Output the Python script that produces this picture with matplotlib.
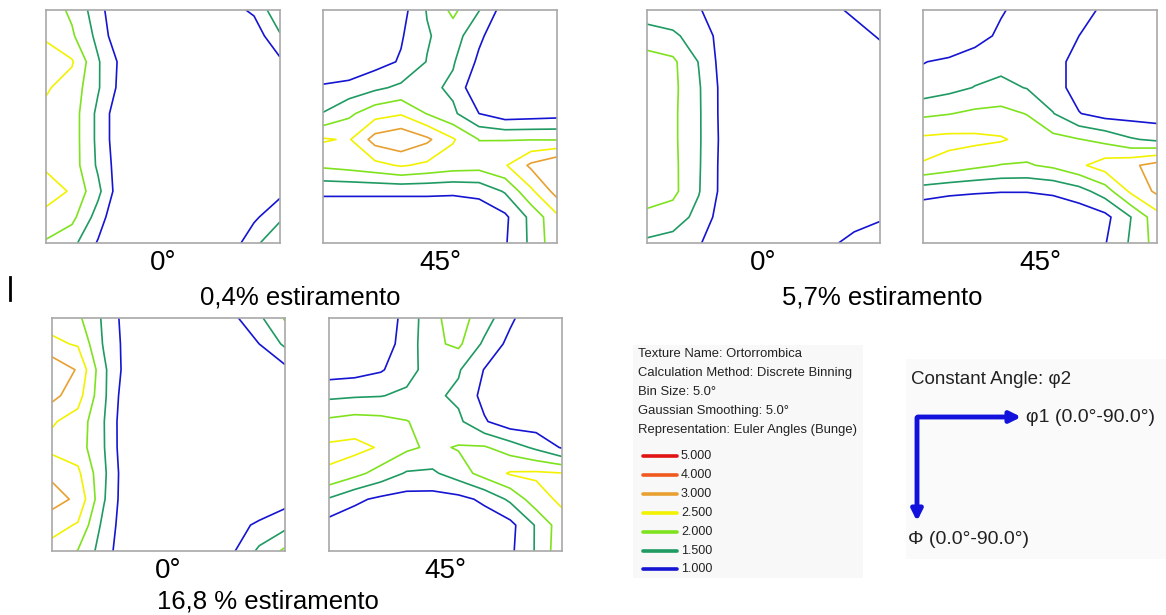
import numpy as np
import matplotlib
matplotlib.use("Agg")
import matplotlib.pyplot as plt

plt.rcParams['font.family'] = ['Liberation Sans', 'DejaVu Sans']

W, H = 1166, 615

# grid nodes in degrees (phi1 along x, Phi down the section)
phi1 = np.arange(0, 91, 10)
Phi = np.arange(0, 91, 10)

levels = [1.0, 1.5, 2.0, 2.5, 3.0, 4.0, 5.0]
level_colors = ['#1414d2', '#1e9a62', '#7ee21e', '#f2f200', '#e8a030', '#f05a1e', '#e01414']
level_labels = ['1.000', '1.500', '2.000', '2.500', '3.000', '4.000', '5.000']

# ODF intensities, rows = Phi 0..90, cols = phi1 0..90
odf_04_0 = [
    [2.3, 1.9, 1.23, 0.35, 0.3, 0.3, 0.4, 0.8, 1.09, 1.9],
    [2.4, 2.07, 1.36, 0.46, 0.3, 0.3, 0.35, 0.5, 0.7, 1.45],
    [2.85, 2.55, 1.55, 0.8, 0.35, 0.3, 0.3, 0.4, 0.6, 0.9],
    [2.55, 2.3, 1.55, 0.75, 0.35, 0.3, 0.3, 0.35, 0.45, 0.6],
    [2.4, 2.25, 1.38, 0.52, 0.3, 0.3, 0.3, 0.3, 0.35, 0.4],
    [2.35, 2.25, 1.38, 0.52, 0.3, 0.3, 0.3, 0.3, 0.35, 0.4],
    [2.4, 2.25, 1.42, 0.6, 0.3, 0.3, 0.3, 0.35, 0.45, 0.6],
    [2.8, 2.43, 1.63, 0.53, 0.3, 0.3, 0.3, 0.4, 0.6, 0.85],
    [2.3, 2.14, 1.28, 0.35, 0.3, 0.3, 0.3, 0.4, 0.9, 1.4],
    [1.95, 1.65, 0.95, 0.4, 0.3, 0.3, 0.35, 0.64, 1.36, 1.95],
]
odf_04_45 = [
    [0.3, 0.4, 0.55, 0.8, 1.53, 2.12, 1.52, 0.75, 0.5, 0.4],
    [0.3, 0.4, 0.6, 0.95, 1.45, 1.75, 1.1, 0.6, 0.45, 0.4],
    [0.35, 0.5, 0.8, 1.05, 1.52, 1.55, 0.9, 0.55, 0.45, 0.45],
    [1.1, 1.2, 1.4, 1.6, 1.65, 1.39, 0.58, 0.4, 0.4, 0.45],
    [1.52, 1.9, 2.3, 2.45, 1.98, 1.6, 1.0, 0.7, 0.75, 0.8],
    [2.55, 2.45, 3.2, 3.4, 3.1, 2.55, 1.99, 1.98, 1.98, 1.97],
    [2.1, 2.2, 2.35, 2.55, 2.4, 2.25, 2.2, 2.45, 3.1, 3.5],
    [1.1, 1.1, 1.1, 1.1, 1.1, 1.08, 1.15, 1.55, 2.4, 3.2],
    [0.6, 0.6, 0.6, 0.6, 0.6, 0.6, 0.65, 0.9, 1.63, 2.4],
    [0.5, 0.5, 0.5, 0.5, 0.5, 0.55, 0.65, 0.95, 1.6, 2.35],
]
odf_57_0 = [
    [1.2, 1.15, 1.05, 0.6, 0.45, 0.4, 0.45, 0.85, 1.1, 1.3],
    [1.75, 1.6, 1.25, 0.8, 0.45, 0.4, 0.4, 0.55, 0.8, 1.05],
    [2.2, 2.1, 1.48, 0.75, 0.45, 0.4, 0.4, 0.45, 0.6, 0.75],
    [2.2, 2.12, 1.55, 0.8, 0.45, 0.4, 0.35, 0.35, 0.4, 0.45],
    [2.2, 2.1, 1.56, 0.8, 0.45, 0.4, 0.35, 0.35, 0.35, 0.35],
    [2.2, 2.1, 1.56, 0.82, 0.45, 0.4, 0.35, 0.35, 0.35, 0.35],
    [2.2, 2.12, 1.55, 0.8, 0.45, 0.4, 0.35, 0.35, 0.4, 0.45],
    [2.2, 2.13, 1.53, 0.8, 0.45, 0.4, 0.4, 0.45, 0.55, 0.65],
    [1.9, 1.75, 1.35, 0.7, 0.45, 0.4, 0.4, 0.5, 0.8, 0.95],
    [1.4, 1.3, 1.05, 0.6, 0.45, 0.4, 0.5, 0.9, 1.15, 1.25],
]
odf_57_45 = [
    [0.3, 0.4, 0.6, 0.95, 1.2, 1.35, 1.2, 0.9, 0.6, 0.45],
    [0.35, 0.5, 0.8, 1.1, 1.3, 1.35, 1.0, 0.7, 0.5, 0.45],
    [0.98, 1.1, 1.25, 1.35, 1.45, 1.15, 0.85, 0.6, 0.5, 0.45],
    [1.2, 1.35, 1.52, 1.62, 1.48, 1.2, 0.8, 0.55, 0.45, 0.4],
    [1.9, 1.98, 2.1, 2.15, 1.98, 1.52, 1.02, 0.8, 0.78, 0.75],
    [2.6, 2.65, 2.62, 2.55, 2.35, 2.15, 2.02, 1.85, 1.55, 1.4],
    [2.48, 2.3, 2.12, 1.98, 1.95, 2.1, 2.4, 2.75, 2.9, 3.2],
    [1.2, 1.1, 1.05, 1.02, 1.02, 1.08, 1.3, 1.75, 2.6, 3.1],
    [0.6, 0.55, 0.55, 0.55, 0.55, 0.6, 0.65, 0.85, 1.5, 2.3],
    [0.5, 0.5, 0.5, 0.5, 0.5, 0.55, 0.7, 0.97, 1.57, 2.2],
]
odf_168_0 = [
    [2.3, 2.1, 1.42, 0.7, 0.4, 0.35, 0.4, 0.9, 1.4, 2.05],
    [2.6, 2.45, 1.45, 0.75, 0.4, 0.35, 0.35, 0.65, 1.0, 1.6],
    [3.4, 2.95, 1.6, 0.7, 0.4, 0.35, 0.35, 0.45, 0.6, 0.85],
    [3.15, 2.7, 1.6, 0.55, 0.4, 0.35, 0.3, 0.3, 0.35, 0.4],
    [2.55, 2.3, 1.52, 0.5, 0.35, 0.3, 0.3, 0.3, 0.3, 0.3],
    [2.35, 2.25, 1.53, 0.5, 0.35, 0.3, 0.3, 0.3, 0.3, 0.3],
    [2.9, 2.6, 1.6, 0.55, 0.35, 0.3, 0.3, 0.3, 0.3, 0.35],
    [3.2, 2.9, 1.55, 0.55, 0.35, 0.3, 0.3, 0.35, 0.55, 0.8],
    [2.7, 2.45, 1.35, 0.6, 0.35, 0.3, 0.35, 0.8, 1.1, 1.35],
    [2.3, 1.98, 1.25, 0.55, 0.35, 0.3, 0.4, 0.95, 1.6, 2.1],
]
odf_168_45 = [
    [0.3, 0.45, 0.7, 1.15, 1.9, 2.2, 1.75, 1.1, 0.6, 0.4],
    [0.3, 0.45, 0.75, 1.2, 1.9, 2.1, 1.4, 0.85, 0.5, 0.4],
    [0.75, 0.8, 0.95, 1.3, 1.75, 1.55, 0.98, 0.6, 0.45, 0.4],
    [1.4, 1.45, 1.48, 1.6, 1.6, 1.4, 0.85, 0.55, 0.45, 0.4],
    [2.1, 2.2, 2.15, 2.02, 1.8, 1.6, 1.05, 0.7, 0.7, 0.7],
    [2.6, 2.65, 2.45, 2.1, 1.9, 2.04, 2.05, 1.75, 1.4, 0.95],
    [2.45, 2.15, 1.8, 1.45, 1.42, 1.75, 2.2, 2.55, 2.58, 2.52],
    [1.45, 1.1, 0.9, 0.8, 0.8, 0.85, 1.1, 1.6, 2.3, 2.6],
    [0.8, 0.7, 0.6, 0.55, 0.55, 0.6, 0.7, 0.85, 1.55, 2.3],
    [0.6, 0.55, 0.5, 0.5, 0.5, 0.55, 0.65, 0.9, 1.55, 2.35],
]

info_lines = [
    'Texture Name: Ortorrombica',
    'Calculation Method: Discrete Binning',
    'Bin Size: 5.0\u00b0',
    'Gaussian Smoothing: 5.0\u00b0',
    'Representation: Euler Angles (Bunge)',
]

# (data, panel box in px: x0, y0, x1, y1, angle label)
sections = [
    (odf_04_0, (46, 10, 280, 243), '0\u00b0'),
    (odf_04_45, (323, 10, 557, 243), '45\u00b0'),
    (odf_57_0, (647, 10, 880, 243), '0\u00b0'),
    (odf_57_45, (923, 10, 1157, 243), '45\u00b0'),
    (odf_168_0, (52, 318, 285, 551), '0\u00b0'),
    (odf_168_45, (329, 318, 562, 551), '45\u00b0'),
]
captions = [
    ('0,4% estiramento', 300, 298),
    ('5,7% estiramento', 882, 298),
    ('16,8 % estiramento', 268, 601),
]

fig = plt.figure(figsize=(W / 100, H / 100), dpi=100)
fig.patch.set_facecolor('white')

# page-level overlay in pixel coordinates for texts and the axes key
bg = fig.add_axes([0, 0, 1, 1])
bg.set_xlim(0, W)
bg.set_ylim(H, 0)
bg.axis('off')

bg.add_patch(plt.Rectangle((633, 345), 230, 233, color='#f8f8f8', lw=0))
bg.add_patch(plt.Rectangle((906, 359), 260, 200, color='#fafafa', lw=0))
bg.plot([10, 10], [277, 300], color='black', lw=2)

for data, (x0, y0, x1, y1), label in sections:
    ax = fig.add_axes([x0 / W, 1 - y1 / H, (x1 - x0) / W, (y1 - y0) / H])
    z = np.array(data)
    for lev, col in zip(levels, level_colors):
        if z.min() < lev < z.max():
            ax.contour(phi1, Phi, z, levels=[lev], colors=[col], linewidths=1.2)
    ax.set_xlim(0, 90)
    ax.set_ylim(90, 0)
    ax.set_xticks([])
    ax.set_yticks([])
    for s in ax.spines.values():
        s.set_color('#a8a8a8')
        s.set_linewidth(1.2)
    bg.text((x0 + x1) / 2, y1 + 20, label, ha='center', va='center', fontsize=20)

for text, x, y in captions:
    bg.text(x, y, text, ha='center', va='center', fontsize=18.5)

# info block and contour key
for i, line in enumerate(info_lines):
    bg.text(638, 354 + 19 * i, line, ha='left', va='center', fontsize=9.4, color='#222222')
for i, (col, lab) in enumerate(zip(level_colors[::-1], level_labels[::-1])):
    y = 456 + 18.9 * i
    bg.plot([643, 677], [y, y], color=col, lw=2.6, solid_capstyle='round')
    bg.text(681, y, lab, ha='left', va='center', fontsize=9, color='#222222')

# Euler-angle orientation key
bg.text(911, 380, 'Constant Angle: \u03c62', ha='left', va='center', fontsize=13.5, color='#222222')
bg.annotate('', xy=(1024, 417), xytext=(915, 417),
            arrowprops=dict(arrowstyle='-|>', color='#1212dc', lw=3.5, mutation_scale=16))
bg.annotate('', xy=(917, 524), xytext=(917, 415),
            arrowprops=dict(arrowstyle='-|>', color='#1212dc', lw=3.5, mutation_scale=16))
bg.text(1026, 417, '\u03c61 (0.0\u00b0-90.0\u00b0)', ha='left', va='center', fontsize=14, color='#222222')
bg.text(908, 540, '\u03a6 (0.0\u00b0-90.0\u00b0)', ha='left', va='center', fontsize=14, color='#222222')

fig.savefig('out.png', dpi=100)
